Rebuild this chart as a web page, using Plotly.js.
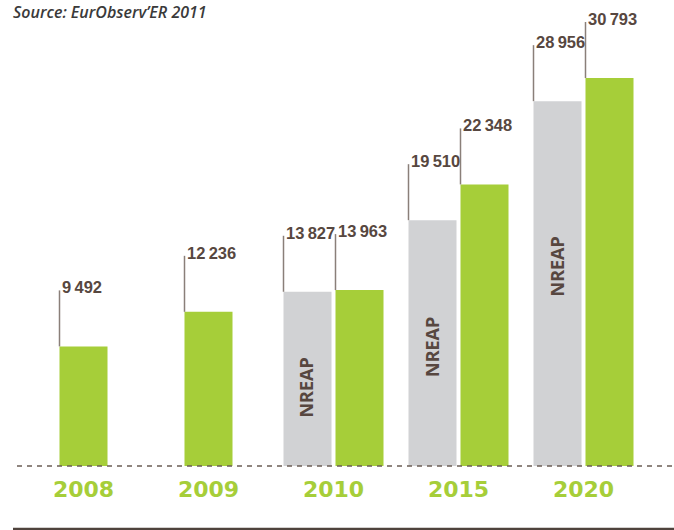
<!DOCTYPE html>
<html>
<head>
<meta charset="utf-8">
<script src="https://cdn.plot.ly/plotly-3.0.1.min.js"></script>
<style>html,body{margin:0;padding:0;background:#fff;}#chart{width:674px;height:530px;}</style>
</head>
<body>
<div id="chart"></div>
<script>
// ---- data ----
var years = ['2008', '2009', '2010', '2015', '2020'];
var observed = [9492, 12236, 13963, 22348, 30793];        // green: EurObserv'ER
var nreapYears = ['2010', '2015', '2020'];
var nreapValues = [13827, 19510, 28956];                    // grey: NREAP
var nreapLabel = 'NREAP';
var sourceText = 'Source: EurObserv\u2019ER 2011';

// ---- styling ----
var GREEN = '#a6ce39', GREY = '#d1d2d4', BROWN = '#574740', LINE = '#8a7f79';
var W = 674, H = 530, ML = 21, MR = 28, MT = 12, MB = 64;
var plotW = W - ML - MR, plotH = H - MT - MB;
var catPx = plotW / years.length;          // pixels per category
var barPx = 48, gapPx = 4;
var bw = barPx / catPx;
var yMax = 36032;

function fmt(v) { return String(v).replace(/\B(?=(\d{3})+(?!\d))/g, '\u2009'); }
function hasNreap(y) { return nreapYears.indexOf(y) >= 0; }
function catIndex(y) { return years.indexOf(y); }

var greenOffsets = years.map(function (y) { return hasNreap(y) ? (gapPx / 2) / catPx : -bw / 2; });
var greenLeftPx = years.map(function (y) { return hasNreap(y) ? gapPx / 2 : -barPx / 2; });
var greyLeftPx = -(barPx + gapPx / 2);

var traces = [
  { type: 'bar', x: nreapYears, y: nreapValues, width: bw, offset: -(barPx + gapPx / 2) / catPx,
    marker: { color: GREY }, hoverinfo: 'skip', showlegend: false },
  { type: 'bar', x: years, y: observed, width: bw, offset: greenOffsets,
    marker: { color: GREEN }, hoverinfo: 'skip', showlegend: false }
];

var shapes = [], annotations = [];
var leadLen = 56;
function addLabel(cat, val, leftPx) {
  var ci = catIndex(cat);
  shapes.push({ type: 'line', xref: 'x', yref: 'y', xsizemode: 'pixel', ysizemode: 'pixel',
    xanchor: ci, yanchor: val, x0: leftPx, x1: leftPx, y0: 0, y1: leadLen,
    line: { color: LINE, width: 1.5 } });
  annotations.push({ x: ci, y: val, xref: 'x', yref: 'y', text: fmt(val), showarrow: false,
    xanchor: 'left', yanchor: 'bottom', xshift: leftPx, yshift: leadLen - 8,
    font: { family: 'Liberation Sans, Arial, sans-serif', size: 16.5, weight: 'bold', color: BROWN } });
}
nreapYears.forEach(function (y, i) { addLabel(y, nreapValues[i], greyLeftPx); });
years.forEach(function (y, i) { addLabel(y, observed[i], greenLeftPx[i]); });

// NREAP vertical labels inside grey bars
var nreapTextY = [6190, 9405, 15794];
nreapYears.forEach(function (y, i) {
  annotations.push({ x: catIndex(y), y: nreapTextY[i], xref: 'x', yref: 'y', text: nreapLabel, showarrow: false,
    textangle: -90, xshift: greyLeftPx + barPx / 2 - 1,
    font: { family: 'Open Sans', size: 18, weight: 'bold', color: BROWN } });
});

// source
annotations.push({ xref: 'paper', yref: 'paper', x: (11 - ML) / plotW, y: (H - MB + 1) / plotH,
  xanchor: 'left', yanchor: 'top', showarrow: false, text: sourceText,
  font: { family: 'Open Sans', size: 16, weight: 600, style: 'italic', color: '#3a3a3a' } });

// baseline (dashed) and bottom rule
shapes.push({ type: 'line', xref: 'paper', yref: 'paper', x0: (17 - ML) / plotW, x1: (W - ML) / plotW,
  y0: 0, y1: 0, line: { color: '#6b5d55', width: 1.6, dash: '5px,5px' } });
shapes.push({ type: 'line', xref: 'paper', yref: 'paper', x0: (13 - ML) / plotW, x1: (W - ML) / plotW,
  y0: -(529 - (H - MB)) / plotH, y1: -(529 - (H - MB)) / plotH, line: { color: '#4f433d', width: 2.5 } });

var layout = {
  width: W, height: H, margin: { l: ML, r: MR, t: MT, b: MB },
  paper_bgcolor: '#fff', plot_bgcolor: '#fff',
  barmode: 'overlay', showlegend: false,
  xaxis: { type: 'category', categoryorder: 'array', categoryarray: years, range: [-0.5, years.length - 0.5],
    showgrid: false, zeroline: false, showline: false, ticks: '', ticklabelstandoff: 8,
    tickfont: { family: 'DejaVu Sans', size: 22, weight: 'bold', color: GREEN }, fixedrange: true },
  yaxis: { range: [0, yMax], showgrid: false, zeroline: false, showline: false, showticklabels: false,
    ticks: '', fixedrange: true },
  shapes: shapes, annotations: annotations
};

Plotly.newPlot('chart', traces, layout, { displayModeBar: false, staticPlot: true });
</script>
</body>
</html>
